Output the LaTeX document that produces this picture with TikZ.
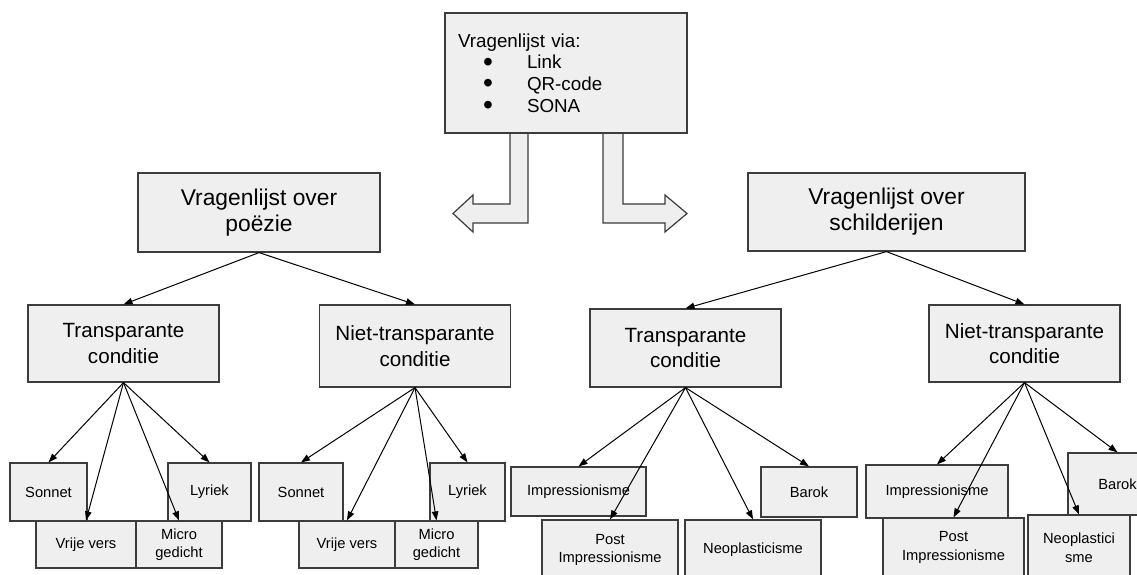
\documentclass[tikz,border=0pt]{standalone}
\usepackage{fontspec}
\setmainfont{Liberation Sans}
\usetikzlibrary{arrows.meta}
\definecolor{boxgray}{RGB}{239,239,239}
\definecolor{edgegray}{RGB}{60,60,60}
\newcommand{\bigbullet}{\smash{\raisebox{-0.12em}{\scalebox{1.5}{\textbullet}}}}

\begin{document}
\begin{tikzpicture}[x=1pt,y=-1pt,
        box/.style={draw=edgegray,fill=boxgray,line width=1.2pt,inner sep=0pt,align=center},
        big/.style={box,font=\fontsize{22.8}{26}\selectfont},
        mid/.style={box,font=\fontsize{20.6}{25.5}\selectfont,minimum width=191pt},
        leaf/.style={box,font=\fontsize{14.7}{18.5}\selectfont},
        link/.style={-{Triangle[length=9pt,width=6.5pt]},line width=1pt},
        fatarrow/.style={draw=edgegray,fill=boxgray,line width=1.2pt}]
        \useasboundingbox (0,0) rectangle (1137,574);

        % split arrows under the top box
        \draw[fatarrow] (510,133) -- (510,204) -- (473,204) -- (473,195) -- (453,213.5)
                -- (473,232) -- (473,223) -- (528,223) -- (528,133);
        \draw[fatarrow] (623,133) -- (623,204) -- (665,204) -- (665,195) -- (687,213.5)
                -- (665,232) -- (665,223) -- (603,223) -- (603,133);

        \node[box,font=\fontsize{18.8}{21.7}\selectfont,minimum width=242pt,minimum height=120pt,
                text width=216pt,align=left] (via) at (566,73)
                {Vragenlijst via:\\
                \hspace*{25pt}\makebox[44pt][l]{\bigbullet}Link\\
                \hspace*{25pt}\makebox[44pt][l]{\bigbullet}QR-code\\
                \hspace*{25pt}\makebox[44pt][l]{\bigbullet}SONA};

        \node[big,minimum width=242pt,minimum height=79pt] (poezie) at (259,212.5) {Vragenlijst over\\poëzie};
        \node[big,minimum width=277pt,minimum height=78pt] (schilder) at (886.5,212) {Vragenlijst over\\schilderijen};

        \node[mid,minimum height=77pt] (transL) at (123.5,343.5) {Transparante\\conditie};
        \node[mid,minimum height=82pt] (nietL) at (415,346) {Niet-transparante\\conditie};
        \node[mid,minimum height=78pt] (transR) at (685.5,348) {Transparante\\conditie};
        \node[mid,minimum height=77pt] (nietR) at (1024.5,343.5) {Niet-transparante\\conditie};

        % poezie
        \node[leaf,minimum width=77pt,minimum height=58pt] (sonnetL) at (48.5,492) {Sonnet};
        \node[leaf,minimum width=83pt,minimum height=58pt] (lyriekL) at (209.5,492) {Lyriek};
        \node[leaf,minimum width=100pt,minimum height=47pt] (vrijL) at (86,544.5) {Vrije vers};
        \node[leaf,minimum width=86pt,minimum height=47pt] (microL) at (179,544.5) {Micro\\gedicht};
        \node[leaf,minimum width=84pt,minimum height=58pt] (sonnetN) at (301,492) {Sonnet};
        \node[leaf,minimum width=75pt,minimum height=58pt] (lyriekN) at (467.5,492) {Lyriek};
        \node[leaf,minimum width=96pt,minimum height=47pt] (vrijN) at (347,544.5) {Vrije vers};
        \node[leaf,minimum width=83pt,minimum height=47pt] (microN) at (436.5,544.5) {Micro\\gedicht};

        % schilderijen
        \node[leaf,minimum width=135pt,minimum height=49pt] (imprT) at (578.5,491.5) {Impressionisme};
        \node[leaf,minimum width=136pt,minimum height=60pt] (postT) at (610,550) {Post\\Impressionisme};
        \node[leaf,minimum width=136pt,minimum height=60pt] (neoT) at (753,550) {Neoplasticisme};
        \node[leaf,minimum width=96pt,minimum height=50pt] (barokT) at (809,492) {Barok};
        \node[leaf,minimum width=142pt,minimum height=53pt] (imprN) at (937,491.5) {Impressionisme};
        \node[leaf,minimum width=141pt,minimum height=59pt] (postN) at (953.5,547.5) {Post\\Impressionisme};
        \node[leaf,minimum width=102pt,minimum height=65pt] (neoN) at (1079,547.5) {Neoplastici\\sme};
        \node[leaf,minimum width=99pt,minimum height=62pt] (barokN) at (1117.5,484) {Barok};

        \draw[link] (poezie.south) -- (transL.north);
        \draw[link] (poezie.south) -- (nietL.north);
        \draw[link] (schilder.south) -- (transR.north);
        \draw[link] (schilder.south) -- (nietR.north);
        \foreach \n in {sonnetL,vrijL,microL,lyriekL}
                \draw[link] (transL.south) -- (\n.north);
        \foreach \n in {sonnetN,vrijN,microN,lyriekN}
                \draw[link] (nietL.south) -- (\n.north);
        \foreach \n in {imprT,postT,neoT,barokT}
                \draw[link] (transR.south) -- (\n.north);
        \foreach \n in {imprN,postN,neoN,barokN}
                \draw[link] (nietR.south) -- (\n.north);
\end{tikzpicture}
\end{document}
